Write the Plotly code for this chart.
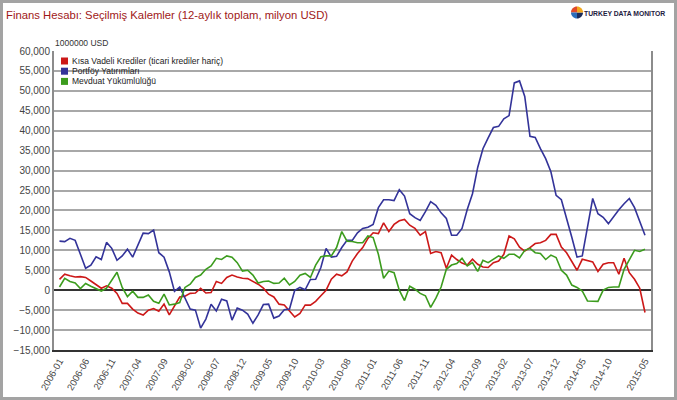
import math
import pandas as pd
import plotly.graph_objects as go

# ---- data (million USD, 12-month rolling sums) ----
months = [str(p) for p in pd.period_range("2006-01", "2015-05", freq="M")]

kisa_vadeli = [2.7, 4.0, 3.6, 3.3, 3.4, 3.2, 2.3, 1.3, 0.5, 1.1, 0.5, -0.8, -3.3, -3.3, -4.75, -5.75, -6.25, -5.0, -4.6, -5.3,
               -3.5, -6.2, -3.8, -1.7, -1.5, -0.8, -0.7, 0.5, -0.7, -0.6, 2.2, 1.7, 3.2, 3.8, 3.3, 3.0, 2.9, 2.2, 1.5, 0.5,
               -1.0, -1.7, -3.5, -3.7, -5.1, -6.7, -5.8, -3.7, -3.75, -2.8, -1.4, 0.0, 2.75, 4.0, 3.6, 4.6, 7.3, 9.2, 10.7, 13.0,
               14.4, 14.2, 16.9, 14.7, 16.5, 17.4, 17.75, 16.3, 15.5, 13.8, 14.7, 9.2, 9.7, 9.4, 5.5, 8.8, 7.7, 6.8, 6.3, 7.8,
               6.5, 5.8, 5.7, 6.9, 7.3, 9.0, 13.6, 12.9, 10.8, 9.8, 10.7, 11.7, 11.9, 12.5, 14.0, 14.0, 10.8, 9.4, 7.2, 5.0,
               7.75, 7.5, 7.1, 4.7, 6.5, 6.9, 6.9, 4.0, 8.0, 4.4, 2.75, 0.5, -5.6]

portfoy = [12.3, 12.2, 13.0, 12.5, 9.0, 5.5, 6.25, 8.4, 7.7, 12.0, 10.5, 7.5, 8.6, 10.3, 8.3, 11.5, 14.3, 14.2, 15.1, 9.4,
           8.3, 4.6, -0.3, 0.8, -1.8, -4.75, -5.0, -9.5, -7.25, -3.5, -5.2, -2.25, -2.7, -7.5, -4.5, -5.0, -6.0, -8.3, -6.2, -3.6,
           -3.5, -7.0, -6.5, -4.9, -4.7, 0.0, 0.7, 0.1, 2.7, 2.75, 5.7, 10.5, 8.3, 8.5, 10.7, 12.5, 12.5, 14.4, 15.5, 15.8,
           16.5, 20.7, 22.7, 22.7, 22.5, 25.2, 23.6, 19.2, 18.2, 17.5, 19.7, 22.2, 21.3, 19.4, 18.0, 13.8, 13.8, 15.5, 20.25, 24.2,
           30.8, 35.5, 38.2, 40.8, 41.1, 43.0, 43.8, 52.0, 52.5, 48.6, 38.6, 38.3, 35.5, 33.0, 29.7, 23.8, 22.7, 18.2, 13.3, 8.3,
           8.6, 15.8, 23.0, 19.2, 18.3, 16.7, 18.6, 20.2, 21.7, 23.0, 20.7, 17.3, 13.8]

mevduat = [0.8, 3.0, 2.2, 1.8, 0.4, 1.7, 1.0, 0.5, -0.2, 0.5, 2.6, 4.5, 0.7, -1.6, -0.25, -1.8, -1.8, -1.2, -2.8, -3.3,
           -1.0, -3.7, -3.5, -3.1, 0.7, 1.5, 3.2, 3.8, 5.25, 6.1, 8.0, 7.7, 8.6, 8.3, 6.9, 4.8, 5.0, 3.8, 1.8, 2.2,
           2.3, 1.7, 1.8, 3.0, 1.3, 2.2, 3.75, 4.2, 3.2, 6.3, 8.4, 8.6, 8.6, 10.7, 14.7, 12.3, 12.2, 11.9, 11.9, 13.6,
           13.2, 9.0, 3.0, 4.8, 4.4, 0.0, -2.6, 1.0, 0.25, -0.8, -1.4, -4.3, -2.0, 0.8, 5.25, 6.3, 6.7, 8.0, 6.1, 6.9,
           4.7, 7.5, 6.9, 7.75, 8.6, 8.0, 9.0, 9.0, 8.1, 10.0, 10.5, 9.4, 9.2, 7.7, 8.8, 8.2, 5.0, 3.8, 1.3, 0.7,
           -0.2, -2.7, -2.8, -2.8, 0.0, 0.7, 0.8, 0.8, 5.25, 7.75, 10.0, 9.7, 10.25]

series_names = ["Kısa Vadeli Krediler (ticari krediler hariç)", "Portföy Yatırımları", "Mevduat Yükümlülüğü"]
series_values = [kisa_vadeli, portfoy, mevduat]
series_colors = ["#cc1818", "#333399", "#3c9c1e"]

tick_labels = ["2006-01", "2006-06", "2006-11", "2007-04", "2007-09", "2008-02", "2008-07", "2008-12",
               "2009-05", "2009-10", "2010-03", "2010-08", "2011-01", "2011-06", "2011-11", "2012-04",
               "2012-09", "2013-02", "2013-07", "2013-12", "2014-05", "2014-10", "2015-05"]
y_ticks = list(range(-15000, 60001, 5000))
logo_parts = [1, 1, 1, 1]
logo_colors = ["#e04a2a", "#2a6ebb", "#1d2d5c", "#f2a81d"]

# ---- layout geometry (pixels) ----
W, H = 677, 400
ML, MR, MT, MB = 54, 26, 51, 50
PW, PH = W - ML - MR, H - MT - MB


def px_x(px):
    return (px - ML) / PW


def px_y(py):
    return 1 - (py - MT) / PH


fig = go.Figure()
for name, vals, col in zip(series_names, series_values, series_colors):
    fig.add_trace(go.Scatter(x=months, y=[v * 1000 for v in vals], mode="lines", name=name,
                             line=dict(color=col, width=1.6), showlegend=False,
                             hovertemplate="%{x}: %{y:,.0f}<extra>" + name + "</extra>"))

shapes = []
annotations = []
# outer frame
shapes.append(dict(type="rect", xref="paper", yref="paper",
                   x0=px_x(1.5), x1=px_x(W - 1.5), y0=px_y(H - 1.5), y1=px_y(1.5),
                   line=dict(color="#a3a3a3", width=3), layer="below"))
# manual legend (square swatches + labels)
for k, (name, col) in enumerate(zip(series_names, series_colors)):
    yc = 61 + 10.2 * k
    shapes.append(dict(type="rect", xref="paper", yref="paper",
                       x0=px_x(61), x1=px_x(68), y0=px_y(yc + 3.5), y1=px_y(yc - 3.5),
                       fillcolor=col, line=dict(width=0)))
    annotations.append(dict(text=name, xref="paper", yref="paper", x=px_x(70), y=px_y(yc),
                            xanchor="left", yanchor="middle", showarrow=False,
                            font=dict(family="Liberation Sans, Arial", size=8.5, color="#222222")))
# logo pie icon
cx, cy, r = 577, 12.5, 6
start = 90.0
tot = sum(logo_parts)
for val, col in zip(logo_parts, logo_colors):
    ang = 360.0 * val / tot
    pts = [(cx, cy)]
    steps = 8
    for k in range(steps + 1):
        a = math.radians(start + ang * k / steps)
        pts.append((cx + r * math.cos(a), cy - r * math.sin(a)))
    path = "M " + " L ".join(f"{px_x(px):.5f},{px_y(py):.5f}" for px, py in pts) + " Z"
    shapes.append(dict(type="path", xref="paper", yref="paper", path=path,
                       fillcolor=col, line=dict(width=0)))
    start += ang

annotations += [
    dict(text="Finans Hesabı: Seçilmiş Kalemler (12-aylık toplam, milyon USD)", xref="paper", yref="paper",
         x=px_x(4), y=px_y(15), xanchor="left", yanchor="middle", showarrow=False,
         font=dict(family="Liberation Sans, Arial", size=11.3, color="#a01818")),
    dict(text="<b>TURKEY DATA MONITOR</b>", xref="paper", yref="paper",
         x=px_x(582), y=px_y(13), xanchor="left", yanchor="middle", showarrow=False,
         font=dict(family="Liberation Sans, Arial", size=6.8, color="#1d2040")),
    dict(text="1000000 USD", xref="paper", yref="paper",
         x=px_x(53), y=px_y(43), xanchor="left", yanchor="middle", showarrow=False,
         font=dict(family="Liberation Sans, Arial", size=8.5, color="#333333")),
]

fig.update_layout(
    width=W, height=H,
    margin=dict(l=ML, r=MR, t=MT, b=MB),
    paper_bgcolor="white", plot_bgcolor="white",
    font=dict(family="Liberation Sans, Arial", size=10, color="#444444"),
    shapes=shapes, annotations=annotations, showlegend=False,
    xaxis=dict(type="category", range=[-1.05, len(months) - 1 + 1.15], automargin=False,
               tickmode="array", tickvals=tick_labels, ticktext=tick_labels, tickangle=-60,
               showgrid=False, showline=True, linecolor="#333333", linewidth=2,
               ticks="", tickfont=dict(size=9.5, color="#444444"), zeroline=False),
    yaxis=dict(range=[-15000, 60000], tickmode="array", tickvals=y_ticks, tickformat=",",
               automargin=False,
               showgrid=True, gridcolor="#a8a8a8", gridwidth=1.5,
               zeroline=True, zerolinecolor="#333333", zerolinewidth=1.5,
               showline=True, linecolor="#8c8c8c", linewidth=2, mirror=True,
               ticks="", tickfont=dict(size=10, color="#444444")),
)

fig.write_html("out.html", config={"displayModeBar": False},
               post_script="document.body.style.margin='0';document.body.style.overflow='hidden';")
